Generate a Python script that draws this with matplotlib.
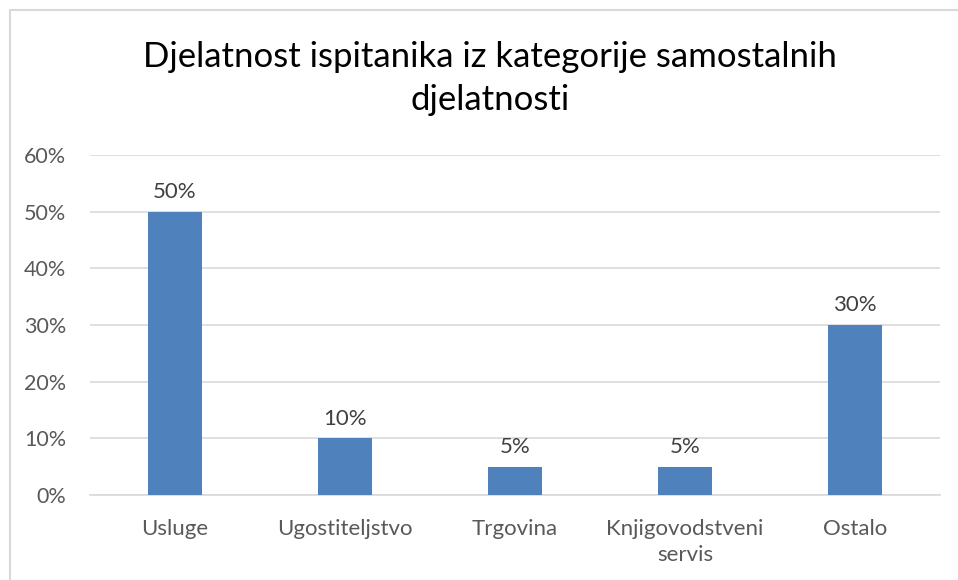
import matplotlib.pyplot as plt
from matplotlib.patches import Rectangle
from matplotlib.ticker import PercentFormatter

plt.rcParams['font.family'] = ['Lato', 'DejaVu Sans']

categories = ['Usluge', 'Ugostiteljstvo', 'Trgovina', 'Knjigovodstveni\nservis', 'Ostalo']
shares = [0.50, 0.10, 0.05, 0.05, 0.30]
bar_labels = ['50%', '10%', '5%', '5%', '30%']

bar_color = '#4F81BD'
grid_color = '#D9D9D9'
text_color = '#595959'

fig = plt.figure(figsize=(9.58, 5.8), dpi=100)
ax = fig.add_axes([0.094, 0.1466, 0.887, 0.5862])

# outer chart border (cropped on right/bottom in the reference)
fig.patches.append(Rectangle((10/958, -0.05), 1.2, 1 - 10/580 + 0.05,
                             transform=fig.transFigure, fill=False,
                             edgecolor='#D9D9D9', linewidth=1.5))

x = list(range(len(categories)))
bars = ax.bar(x, shares, width=0.318, color=bar_color, zorder=3)

for b, lab in zip(bars, bar_labels):
    ax.annotate(lab, (b.get_x() + b.get_width() / 2, b.get_height()),
                xytext=(0, 7), textcoords='offset points',
                ha='center', va='bottom', fontsize=16, color='#404040')

ax.set_xlim(-0.5, len(categories) - 0.5)
ax.set_ylim(0, 0.6)
ax.set_yticks([0, 0.1, 0.2, 0.3, 0.4, 0.5, 0.6])
ax.yaxis.set_major_formatter(PercentFormatter(1.0, decimals=0))
ax.set_xticks(x)
ax.set_xticklabels(categories)
ax.tick_params(axis='x', length=0, labelsize=16, labelcolor=text_color, pad=17)
ax.tick_params(axis='y', length=0, labelsize=15.5, labelcolor=text_color, pad=17)
for lab in ax.get_xticklabels():
    lab.set_linespacing(1.4)

ax.grid(axis='y', color=grid_color, linewidth=1.2, zorder=0)
for s in ['top', 'right', 'left']:
    ax.spines[s].set_visible(False)
ax.spines['bottom'].set_color(grid_color)
ax.spines['bottom'].set_linewidth(1.2)

fig.text(490/958, 1 - 57/580, 'Djelatnost ispitanika iz kategorije samostalnih',
         ha='center', va='center', fontsize=25, color='#000000')
fig.text(490/958, 1 - 100/580, 'djelatnosti',
         ha='center', va='center', fontsize=25, color='#000000')

fig.savefig('out.png', dpi=100)
plt.close()
